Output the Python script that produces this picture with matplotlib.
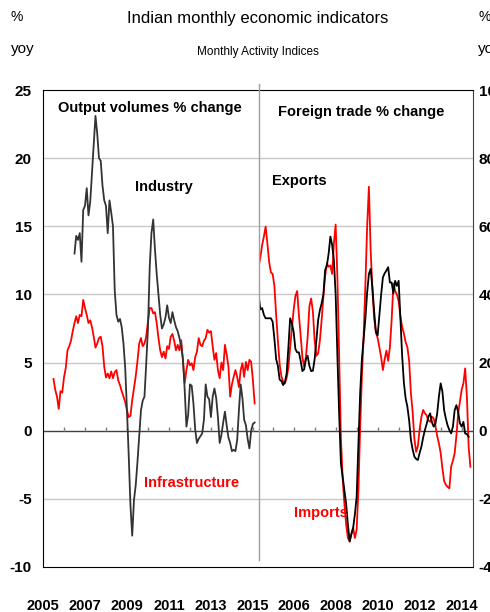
import numpy as np
import matplotlib
matplotlib.use("Agg")
import matplotlib.pyplot as plt
from matplotlib.lines import Line2D

plt.rcParams['font.family'] = ['Liberation Sans', 'DejaVu Sans']
plt.rcParams['axes.unicode_minus'] = False

# ---- data (monthly, % yoy) ----
industry_start = 2006.5
industry = [13.0, 14.3, 14.0, 14.5, 12.4, 16.2, 16.5, 17.8, 15.8, 16.8, 18.9, 21.0,
            23.1, 21.8, 20.0, 19.8, 18.0, 16.9, 16.5, 14.5, 16.9, 16.0, 15.0, 10.3,
            8.5, 8.0, 8.2, 7.6, 6.4, 4.6, 1.5, -1.8, -5.5, -7.7, -5.1, -4.0,
            -2.3, -0.4, 1.5, 2.2, 2.5, 4.9, 7.5, 12.0, 14.5, 15.5, 13.3, 11.5,
            10.0, 8.5, 7.5, 7.8, 8.3, 9.2, 8.3, 7.9, 8.7, 8.1, 7.6, 7.3,
            6.8, 6.2, 5.2, 3.0, 0.3, 1.2, 3.4, 3.3, 2.0, 0.1, -0.9, -0.6,
            -0.4, -0.2, 0.8, 3.4, 2.5, 2.3, 1.0, 2.5, 3.1, 2.4, 1.0, -0.9,
            -0.3, 0.6, 1.4, 0.4, -0.5, -0.9, -1.5, -1.4, -1.5, -0.7, 1.5, 3.4,
            2.4, 0.8, 0.4, -0.6, -1.3, 0.0, 0.5, 0.6]

infra_start = 2005.5
infrastructure = [3.8, 3.0, 2.5, 1.6, 2.9, 2.8, 3.9, 4.6, 5.9, 6.2, 6.6, 7.3,
                  7.9, 8.4, 7.9, 8.5, 8.4, 9.6, 9.0, 8.5, 7.9, 8.1, 7.6, 6.9,
                  6.1, 6.4, 6.8, 6.9, 6.2, 4.7, 3.9, 4.2, 3.85, 4.35, 3.85, 4.3,
                  4.45, 3.7, 3.35, 2.9, 2.5, 2.1, 1.5, 1.0, 1.1, 2.25, 3.1, 4.0,
                  5.1, 6.4, 6.8, 6.2, 6.4, 6.9, 8.0, 9.0, 9.0, 8.6, 8.7, 7.9,
                  6.8, 5.9, 5.4, 5.8, 5.3, 6.2, 6.0, 6.9, 7.1, 6.6, 5.9, 6.3,
                  5.9, 6.65, 5.2, 3.5, 4.45, 5.2, 4.8, 4.95, 4.45, 5.4, 5.8, 6.8,
                  6.3, 6.2, 6.6, 6.8, 7.4, 7.2, 7.3, 6.2, 5.2, 5.7, 4.45, 3.85,
                  5.0, 4.45, 6.3, 5.6, 4.7, 2.5, 3.4, 3.95, 4.45, 3.95, 3.2, 4.45,
                  4.95, 3.95, 5.05, 4.45, 5.2, 5.05, 3.7, 2.0]

trade_start = 2004.333
exports = [39.8, 35.6, 36.0, 34.0, 33.0, 33.0, 33.0, 33.0, 32.0, 27.0, 21.0, 19.0,
           15.0, 14.6, 13.4, 14.2, 16.8, 24.5, 33.0, 31.5, 29.0, 24.0, 23.0, 23.0,
           20.5, 17.5, 18.0, 21.0, 22.0, 19.0, 17.5, 17.6, 21.0, 26.5, 32.5, 35.4,
           37.4, 40.0, 47.2, 48.5, 52.0, 57.0, 54.5, 50.0, 40.0, 22.0, 5.0, -9.6,
           -13.5, -17.5, -21.5, -27.5, -32.5, -30.3, -28.5, -24.5, -19.4, -4.0, 11.0, 21.0,
           27.0, 33.0, 40.5, 46.0, 47.5, 42.0, 35.0, 29.0, 28.0, 34.0, 40.0, 45.0,
           46.2, 47.0, 48.0, 43.5, 43.5, 40.3, 44.0, 42.5, 44.0, 33.0, 22.0, 14.0,
           9.5, 7.0, 3.0, -2.7, -5.5, -7.6, -8.3, -8.6, -6.5, -4.7, -2.0, 0.2,
           2.0, 4.1, 5.1, 2.5, 1.2, 2.0, 5.0, 10.0, 13.9, 11.5, 6.0, 3.5,
           1.5, 0.2, -0.8, 1.2, 6.0, 7.5, 5.5, 2.2, 1.2, 2.6, -0.8, -1.0, -1.8]

imports = [48.1, 51.0, 54.5, 57.0, 59.9, 55.0, 49.5, 46.5, 46.0, 42.5, 34.0, 26.5,
           19.5, 16.0, 14.4, 13.9, 15.5, 18.5, 24.5, 30.0, 35.5, 39.5, 41.0, 34.0,
           28.0, 21.5, 18.8, 21.5, 27.5, 36.5, 38.8, 35.0, 26.5, 22.0, 22.7, 26.5,
           32.5, 39.5, 45.5, 49.1, 48.1, 48.5, 46.0, 55.0, 60.5, 45.0, 22.0, -2.0,
           -14.0, -21.5, -27.5, -31.5, -32.5, -30.3, -28.5, -31.5, -29.0, -17.5, 1.0, 16.0,
           28.0, 43.0, 60.0, 71.6, 53.0, 41.5, 33.0, 28.8, 27.2, 24.5, 21.5, 17.8,
           21.0, 23.5, 20.5, 24.5, 32.5, 43.2, 41.0, 40.0, 38.0, 33.5, 30.5, 28.5,
           26.0, 24.5, 20.5, 11.0, 5.5, -2.5, -6.2, -4.5, 0.5, 4.0, 6.1, 5.1,
           4.5, 3.0, 2.6, 4.1, 3.6, 1.5, -1.5, -3.7, -6.5, -11.0, -14.8, -15.9,
           -16.5, -16.9, -10.5, -8.8, -6.6, -1.5, 5.0, 8.5, 12.0, 13.9, 18.3, 10.0,
           -4.7, -10.6]

left_years = [2005, 2007, 2009, 2011, 2013, 2015]
right_years = [2006, 2008, 2010, 2012, 2014]


def months(start, values):
    return start + np.arange(len(values)) / 12.0


fig = plt.figure(figsize=(4.9, 6.12), dpi=100)
W, H = 490.0, 612.0
x0, xm, x1 = 43 / W, 259 / W, 473 / W
y0, y1 = 1 - 567 / H, 1 - 90 / H

axl = fig.add_axes([x0, y0, xm - x0, y1 - y0])
axr = fig.add_axes([xm, y0, x1 - xm, y1 - y0])

grid_c = '#c8c8c8'
lw = 1.3
tick_fs = 11
year_fs = 10.5
lab_fs = 10.5

# left panel
axl.set_xlim(2005, 2015.29)
axl.set_ylim(-10, 25)
for v in [-5, 5, 10, 15, 20]:
    axl.axhline(v, color=grid_c, lw=1, zorder=1)
axl.axhline(0, color='#404040', lw=1, zorder=2)
axl.plot(np.arange(2006, 2016), np.zeros(10), ls='none', marker=2, ms=3,
         color='#808080', mew=1, zorder=2)
axl.plot(months(infra_start, infrastructure), infrastructure, color='#ff0000', lw=lw, zorder=3)
axl.plot(months(industry_start, industry), industry, color='#333333', lw=lw, zorder=4)
axl.set_yticks(range(-10, 26, 5))
axl.set_xticks(left_years)
axl.tick_params(axis='both', length=0)
axl.tick_params(axis='y', pad=8, labelsize=tick_fs)
axl.tick_params(axis='x', pad=23, labelsize=year_fs)
for sp in ['left', 'top', 'bottom']:
    axl.spines[sp].set_color('black')
axl.spines['right'].set_visible(False)

# right panel
axr.set_xlim(2004.35, 2014.54)
axr.set_ylim(-40, 100)
for v in [-20, 20, 40, 60, 80]:
    axr.axhline(v, color=grid_c, lw=1, zorder=1)
axr.axhline(0, color='#404040', lw=1, zorder=2)
axr.plot(np.arange(2005, 2015), np.zeros(10), ls='none', marker=2, ms=3,
         color='#808080', mew=1, zorder=2)
axr.plot(months(trade_start, imports), imports, color='#ff0000', lw=lw, zorder=3)
axr.plot(months(trade_start, exports), exports, color='black', lw=lw, zorder=4)
axr.yaxis.tick_right()
axr.set_yticks(range(-40, 101, 20))
axr.set_xticks(right_years)
axr.tick_params(axis='both', length=0)
axr.tick_params(axis='y', pad=4, labelsize=tick_fs)
axr.tick_params(axis='x', pad=23, labelsize=year_fs)
axr.spines['left'].set_visible(False)
axr.spines['right'].set_color('#404040')

for ax in (axl, axr):
    for lab in ax.get_xticklabels() + ax.get_yticklabels():
        lab.set_fontweight('bold')

# divider between panels
fig.add_artist(Line2D([xm, xm], [1 - 84 / H, 1 - 560 / H], color='#a0a0a0', lw=1))

# titles and labels
fig.text(258 / W, 1 - 18 / H, 'Indian monthly economic indicators', ha='center', va='center', fontsize=12)
fig.text(258 / W, 1 - 52 / H, 'Monthly Activity Indices', ha='center', va='center', fontsize=8.5)
fig.text(17 / W, 1 - 17 / H, '%', ha='center', va='center', fontsize=10)
fig.text(23 / W, 1 - 49 / H, 'yoy', ha='center', va='center', fontsize=11)
fig.text(478 / W, 1 - 17 / H, '%', ha='left', va='center', fontsize=10)
fig.text(478 / W, 1 - 49 / H, 'yoy', ha='left', va='center', fontsize=11)

fig.text(150 / W, 1 - 108 / H, 'Output volumes % change', ha='center', va='center',
         fontsize=lab_fs, fontweight='bold')
fig.text(361 / W, 1 - 112 / H, 'Foreign trade % change', ha='center', va='center',
         fontsize=lab_fs, fontweight='bold')
fig.text(164 / W, 1 - 187 / H, 'Industry', ha='center', va='center', fontsize=lab_fs, fontweight='bold')
fig.text(299 / W, 1 - 181 / H, 'Exports', ha='center', va='center', fontsize=lab_fs, fontweight='bold')
fig.text(192 / W, 1 - 483 / H, 'Infrastructure', ha='center', va='center', fontsize=lab_fs,
         fontweight='bold', color='#ff0000')
fig.text(321 / W, 1 - 513 / H, 'Imports', ha='center', va='center', fontsize=lab_fs,
         fontweight='bold', color='#ff0000')

fig.savefig('out.png', dpi=100)
